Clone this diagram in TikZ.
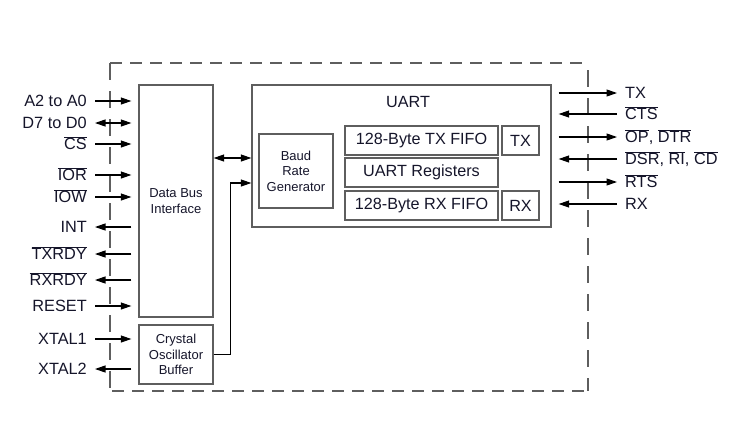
\documentclass[tikz,border=0pt]{standalone}
\usepackage{fontspec}
\setmainfont{Liberation Sans}
\usetikzlibrary{arrows.meta}
\newcommand{\ovl}[1]{\ensuremath{\overline{\mbox{#1}}}}
\definecolor{boxgray}{HTML}{5E5E5E}
\definecolor{txt}{HTML}{15152A}
\begin{document}
\begin{tikzpicture}[x=1pt,y=1pt,
  box/.style={draw=boxgray, line width=1.3pt, inner sep=0pt, align=center, text=txt},
  small/.style={font=\fontsize{13}{15.5}\selectfont},
  mid/.style={font=\fontsize{16.2}{19}\selectfont},
  pin/.style={font=\fontsize{16.3}{18}\selectfont, inner sep=0pt, text=txt},
  sig/.style={line width=1.1pt, -{Triangle[length=10.5pt,width=7pt]}},
  dsig/.style={line width=1.1pt, {Triangle[length=10.5pt,width=7pt]}-{Triangle[length=10.5pt,width=7pt]}},
  frame/.style={draw=boxgray, line width=1.4pt}]
\useasboundingbox (0,0) rectangle (733,-445);

% dashed frame
\draw[frame, dash pattern=on 12pt off 8pt] (110,-63) -- (588,-63);
\draw[frame, dash pattern=on 12pt off 8pt] (112,-391) -- (588,-391);
\draw[frame, dash pattern=on 17pt off 11pt] (110,-63) -- (110,-391);
\draw[frame, dash pattern=on 17pt off 11pt] (588,-70) -- (588,-391);

% blocks
\node[box, small, minimum width=74pt, minimum height=232pt] (dbi) at (176,-201) {Data Bus\\Interface};
\node[box, small, minimum width=74pt, minimum height=59pt] (crys) at (176,-354.5) {Crystal\\Oscillator\\Buffer};
\node[box, minimum width=299pt, minimum height=142pt] (uart) at (401.5,-156) {};
\node[mid, text=txt, inner sep=0pt] (uartlbl) at (408,-102) {UART};
\node[box, small, minimum width=74pt, minimum height=74pt] (baud) at (296,-171) {Baud\\Rate\\Generator};
\node[box, mid, minimum width=153pt, minimum height=29pt] (txf) at (421.5,-140.5) {128-Byte TX FIFO};
\node[box, mid, minimum width=153pt, minimum height=29pt] (regs) at (421.5,-172.5) {UART Registers};
\node[box, mid, minimum width=153pt, minimum height=29pt] (rxf) at (421.5,-205.5) {128-Byte RX FIFO};
\node[box, mid, minimum width=37pt, minimum height=29pt] (txb) at (520.5,-140.5) {TX};
\node[box, mid, minimum width=37pt, minimum height=29pt] (rxb) at (520.5,-205.5) {RX};

% internal connections
\draw[dsig] (dbi.east |- 0,-158) -- (uart.west |- 0,-158);
\draw[sig] (crys.east) -- ++(17,0) |- (uart.west |- 0,-183);

% left pins
\coordinate (pa) at (95,-101);
\coordinate (pd) at (95,-123);
\coordinate (pcs) at (95,-144);
\coordinate (pior) at (95,-175);
\coordinate (piow) at (95,-197);
\coordinate (pint) at (95,-227);
\coordinate (ptxr) at (95,-254);
\coordinate (prxr) at (95,-280);
\coordinate (prst) at (95,-306);
\coordinate (px1) at (95,-339);
\coordinate (px2) at (95,-369);

\node[pin, anchor=base east] (la) at ([xshift=-8pt,yshift=-5.8pt]pa) {A2 to A0};
\node[pin, anchor=base east] (ld) at ([xshift=-8pt,yshift=-5.8pt]pd) {D7 to D0};
\node[pin, anchor=base east] (lcs) at ([xshift=-8pt,yshift=-5.8pt]pcs) {\ovl{CS}};
\node[pin, anchor=base east] (lior) at ([xshift=-8pt,yshift=-5.8pt]pior) {\ovl{IOR}};
\node[pin, anchor=base east] (liow) at ([xshift=-8pt,yshift=-5.8pt]piow) {\ovl{IOW}};
\node[pin, anchor=base east] (lint) at ([xshift=-8pt,yshift=-5.8pt]pint) {INT};
\node[pin, anchor=base east] (ltxr) at ([xshift=-8pt,yshift=-5.8pt]ptxr) {\ovl{TXRDY}};
\node[pin, anchor=base east] (lrxr) at ([xshift=-8pt,yshift=-5.8pt]prxr) {\ovl{RXRDY}};
\node[pin, anchor=base east] (lrst) at ([xshift=-8pt,yshift=-5.8pt]prst) {RESET};
\node[pin, anchor=base east] (lx1) at ([xshift=-8pt,yshift=-5.8pt]px1) {XTAL1};
\node[pin, anchor=base east] (lx2) at ([xshift=-8pt,yshift=-5.8pt]px2) {XTAL2};

\draw[sig, shorten >=7pt] (pa) -- (pa -| dbi.west);
\draw[dsig, shorten >=7pt] (pd) -- (pd -| dbi.west);
\draw[sig, shorten >=7pt] (pcs) -- (pcs -| dbi.west);
\draw[sig, shorten >=7pt] (pior) -- (pior -| dbi.west);
\draw[sig, shorten >=7pt] (piow) -- (piow -| dbi.west);
\draw[sig, shorten <=7pt] (pint -| dbi.west) -- (pint);
\draw[sig, shorten <=7pt] (ptxr -| dbi.west) -- (ptxr);
\draw[sig, shorten <=7pt] (prxr -| dbi.west) -- (prxr);
\draw[sig, shorten >=7pt] (prst) -- (prst -| dbi.west);
\draw[sig, shorten >=7pt] (px1) -- (px1 -| crys.west);
\draw[sig, shorten <=7pt] (px2 -| crys.west) -- (px2);

% right pins
\coordinate (qtx) at (617,-93);
\coordinate (qcts) at (617,-114);
\coordinate (qop) at (617,-137);
\coordinate (qdsr) at (617,-159);
\coordinate (qrts) at (617,-182);
\coordinate (qrx) at (617,-204);

\node[pin, anchor=base west] (rtx) at ([xshift=8pt,yshift=-5.8pt]qtx) {TX};
\node[pin, anchor=base west] (rcts) at ([xshift=8pt,yshift=-5.8pt]qcts) {\ovl{CTS}};
\node[pin, anchor=base west] (rop) at ([xshift=8pt,yshift=-5.8pt]qop) {\ovl{OP}, \ovl{DTR}};
\node[pin, anchor=base west] (rdsr) at ([xshift=8pt,yshift=-5.8pt]qdsr) {\ovl{DSR}, \ovl{RI}, \ovl{CD}};
\node[pin, anchor=base west] (rrts) at ([xshift=8pt,yshift=-5.8pt]qrts) {\ovl{RTS}};
\node[pin, anchor=base west] (rrx) at ([xshift=8pt,yshift=-5.8pt]qrx) {RX};

\draw[sig, shorten <=7pt] (qtx -| uart.east) -- (qtx);
\draw[sig, shorten >=7pt] (qcts) -- (qcts -| uart.east);
\draw[sig, shorten <=7pt] (qop -| uart.east) -- (qop);
\draw[sig, shorten >=7pt] (qdsr) -- (qdsr -| uart.east);
\draw[sig, shorten <=7pt] (qrts -| uart.east) -- (qrts);
\draw[sig, shorten >=7pt] (qrx) -- (qrx -| uart.east);
\end{tikzpicture}
\end{document}
